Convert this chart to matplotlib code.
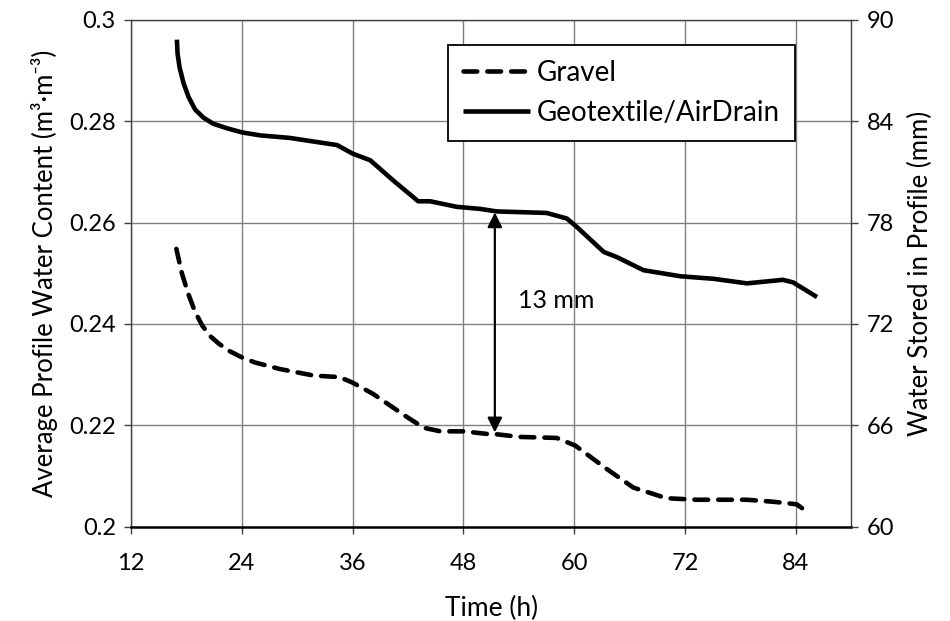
import numpy as np
import matplotlib.pyplot as plt

plt.rcParams['font.family'] = ['Lato', 'DejaVu Sans']

# data
geo_t = [16.96, 17.03, 17.24, 17.68, 18.22, 18.94, 19.84, 20.9, 22.4, 24.0, 26.0,
         29.2, 32.1, 34.3, 36.0, 37.9, 40.4, 43.1, 44.4, 47.3, 49.8, 51.6, 57.0,
         59.2, 60.3, 63.2, 64.6, 67.5, 71.5, 75.1, 78.7, 82.6, 83.7, 86.3]
geo_wc = [0.2961, 0.2934, 0.2907, 0.2875, 0.2848, 0.2823, 0.2807, 0.2795, 0.2786,
          0.2778, 0.2772, 0.2767, 0.2759, 0.2753, 0.2736, 0.2723, 0.2683, 0.2642,
          0.2642, 0.2631, 0.2627, 0.2622, 0.2619, 0.2608, 0.2591, 0.2542, 0.2532,
          0.2506, 0.2494, 0.2489, 0.2480, 0.2487, 0.2482, 0.2453]

grav_t = [16.9, 17.5, 18.2, 18.9, 19.7, 20.5, 21.5, 22.7, 24.0, 25.4, 28.1, 31.8,
          34.6, 36.0, 38.2, 41.9, 43.7, 45.5, 48.0, 50.5, 51.2, 54.1, 58.1, 60.1,
          63.5, 66.4, 70.0, 73.3, 78.7, 81.6, 84.1, 85.3]
grav_wc = [0.2548, 0.2500, 0.2459, 0.2425, 0.2397, 0.2377, 0.2361, 0.2346, 0.2334,
           0.2324, 0.2311, 0.2298, 0.2295, 0.2284, 0.2262, 0.2216, 0.2195, 0.2188,
           0.2188, 0.2183, 0.2183, 0.2177, 0.2175, 0.2160, 0.2114, 0.2077, 0.2056,
           0.2053, 0.2053, 0.2049, 0.2044, 0.2028]

arrow_t = 51.4
arrow_lo, arrow_hi = 0.2186, 0.2620
arrow_text = '13 mm'

x_ticks = [12, 24, 36, 48, 60, 72, 84]
y_ticks = [0.2, 0.22, 0.24, 0.26, 0.28, 0.3]
y_labels = ['0.2', '0.22', '0.24', '0.26', '0.28', '0.3']
y2_ticks = [60, 66, 72, 78, 84, 90]

fig = plt.figure(figsize=(9.5, 6.21), dpi=100)
ax = fig.add_axes([0.138, 0.152, 0.758, 0.816])

ax.plot(grav_t, grav_wc, color='black', lw=3.3, dashes=(3.0, 2.2),
        dash_capstyle='round', label='Gravel')
ax.plot(geo_t, geo_wc, color='black', lw=3.3, solid_capstyle='butt',
        label='Geotextile/AirDrain')

ax.annotate('', xy=(arrow_t, arrow_hi), xytext=(arrow_t, arrow_lo),
            arrowprops=dict(arrowstyle='<|-|>', color='black', lw=1.6,
                            mutation_scale=22, shrinkA=0, shrinkB=0))
ax.text(53.9, 0.2446, arrow_text, fontsize=18, va='center', ha='left')

ax.set_xlim(12, 90)
ax.set_ylim(0.2, 0.3)
ax.set_xticks(x_ticks)
ax.set_yticks(y_ticks)
ax.set_yticklabels(y_labels)
ax.grid(True, color='#808080', lw=1.0)
ax.set_axisbelow(True)
ax.tick_params(labelsize=17, length=5, width=1.0, color='#404040', pad=6)
ax.tick_params(axis='x', pad=14)
for s in ax.spines.values():
    s.set_color('#404040')
    s.set_linewidth(1.0)
ax.spines['bottom'].set_color('black')
ax.spines['bottom'].set_linewidth(1.8)

ax.set_xlabel('Time (h)', fontsize=19, labelpad=16)
ax.set_ylabel('Average Profile Water Content (m³·m⁻³)', fontsize=18.5, labelpad=8)

ax2 = ax.twinx()
ax2.set_ylim(60, 90)
ax2.set_yticks(y2_ticks)
ax2.tick_params(labelsize=17, length=5, width=1.0, color='#404040', pad=6)
ax2.set_ylabel('Water Stored in Profile (mm)', fontsize=18.5, labelpad=10)
for s in ax2.spines.values():
    s.set_visible(False)

leg = ax.legend(loc='upper left', bbox_to_anchor=(0.440, 0.951), fontsize=20,
                frameon=True, fancybox=False, edgecolor='black', framealpha=1,
                handlelength=2.4, handletextpad=0.25, borderpad=0.55,
                labelspacing=0.5, borderaxespad=0)
leg.get_frame().set_linewidth(1.3)

fig.savefig('out.png', dpi=100)
